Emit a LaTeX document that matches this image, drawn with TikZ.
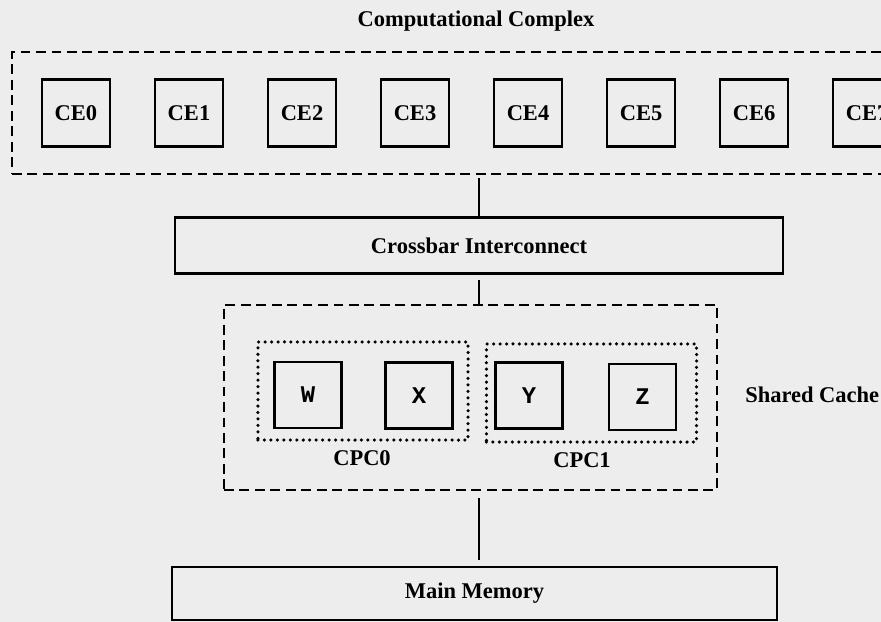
\documentclass[tikz,border=0pt]{standalone}
\usepackage{fontspec}
\setmainfont{Liberation Serif}
\setmonofont{Liberation Mono}
\usetikzlibrary{positioning}

\begin{document}
\begin{tikzpicture}[x=0.025cm,y=-0.025cm,
    lbl/.style={font=\bfseries\fontsize{16}{18}\selectfont,inner sep=0pt},
    unit/.style={draw,line width=1.6pt,minimum width=1.7cm,minimum height=1.68cm,inner sep=0pt,lbl},
    bank/.style={unit,font=\ttfamily\bfseries\fontsize{17}{18}\selectfont,minimum width=1.675cm,minimum height=1.65cm},
    wide/.style={draw,line width=1.6pt,inner sep=0pt,lbl},
    grp/.style={draw,line width=1.9pt,dash pattern=on 7pt off 4pt,inner sep=0pt},
    pair/.style={draw,line width=2.5pt,line cap=round,dash pattern=on 0pt off 4.6pt,inner sep=0pt,minimum width=5.25cm,minimum height=2.45cm},
    link/.style={line width=1.7pt}]
  \path[use as bounding box,fill=black!7] (0,0) rectangle (881,622);
  \clip (0,0) rectangle (881,622);
  % computational complex
  \node[lbl] (title) at (476,21) {Computational Complex};
  \node[grp,minimum width=23.45cm,minimum height=3.05cm] (complex) at (481,113) {};
  \foreach \i in {0,...,7}
    \node[unit] (ce\i) at (76+113*\i,113) {CE\i};
  % interconnect
  \node[wide,minimum width=15.2cm,minimum height=1.4cm] (cross) at (479,245.5) {Crossbar Interconnect};
  % shared cache
  \node[grp,minimum width=12.325cm,minimum height=4.625cm] (cache) at (470.5,397.5) {};
  \node[pair] (cpc0) at (363,391) {};
  \node[pair] (cpc1) at (591.5,393) {};
  \node[bank] (w) at (308,395) {W};
  \node[bank] (x) at (419,395.5) {X};
  \node[bank] (y) at (529,395.5) {Y};
  \node[bank] (z) at (642.5,397) {Z};
  \node[lbl] (cpclbl0) at (362,458) {CPC0};
  \node[lbl] (cpclbl1) at (582,460) {CPC1};
  \node[lbl,anchor=west] (cachelbl) at (745,395) {Shared Cache};
  % memory
  \node[wide,minimum width=15.125cm,minimum height=1.325cm] (memory) at (474.5,593.5) {Main Memory};
  % connectors
  \draw[link,shorten <=2pt] (cross.north |- complex.south) -- (cross.north);
  \draw[link,shorten <=4pt] (cross.south) -- (cross.south |- cache.north);
  \draw[link,shorten <=5pt,shorten >=4pt] (cache.south -| cross.south) -- (memory.north -| cross.south);
\end{tikzpicture}
\end{document}
